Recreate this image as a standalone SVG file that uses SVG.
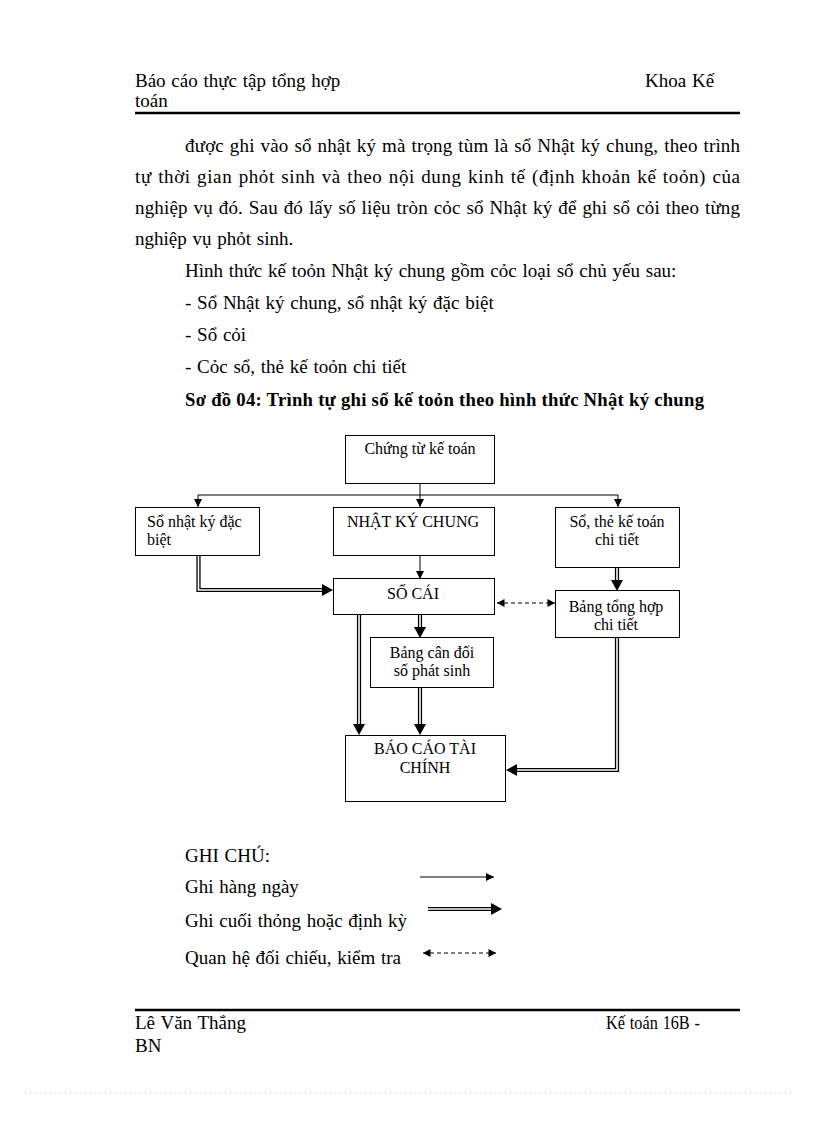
<svg xmlns="http://www.w3.org/2000/svg" width="816" height="1123" viewBox="0 0 816 1123">
<style>
text{font-family:"Liberation Serif","Times New Roman",serif;fill:#000}
.body{font-size:19px;word-spacing:1px}
.bold{font-size:18.7px;font-weight:bold}
.dg{font-size:16px}
.mid{text-anchor:middle}
.box{fill:#fff;stroke:#000;stroke-width:1}
.thin{fill:none;stroke:#000;stroke-width:1}
.dash{fill:none;stroke:#000;stroke-width:1;stroke-dasharray:4 3}
.dblo{fill:none;stroke:#000;stroke-width:4.2;stroke-linejoin:miter}
.dbli{fill:none;stroke:#fff;stroke-width:1.6;stroke-linejoin:miter}
.rule{stroke:#000;stroke-width:2.5}
</style>
<defs>
<marker id="ah" markerUnits="userSpaceOnUse" markerWidth="10" markerHeight="10" viewBox="0 0 10 10" refX="9" refY="5" orient="auto">
<path d="M1,1 L9,5 L1,9 Z" fill="#000"/>
</marker>
<marker id="ahs" markerUnits="userSpaceOnUse" markerWidth="10" markerHeight="10" viewBox="0 0 10 10" refX="9" refY="5" orient="auto-start-reverse">
<path d="M1.5,1 L9,5 L1.5,9 Z" fill="#000"/>
</marker>
<marker id="ahb" markerUnits="userSpaceOnUse" markerWidth="12" markerHeight="13" viewBox="0 0 12 13" refX="0" refY="6.5" orient="auto">
<path d="M0,0.5 L11,6.5 L0,12.5 Z" fill="#000"/>
</marker>
</defs>
<rect width="816" height="1123" fill="#fff"/>

<g id="header">
<text class="body" x="135" y="87">Báo cáo thực tập tổng hợp</text>
<text class="body" x="135" y="107">toán</text>
<text class="body" x="645" y="87">Khoa Kế</text>
<line class="rule" x1="135" y1="113" x2="740" y2="113"/>
</g>

<g id="bodytext">
<text class="body" x="185" y="152" textLength="555" lengthAdjust="spacing">được ghi vào sổ nhật ký mà trọng tùm là sổ Nhật ký chung, theo trình</text>
<text class="body" x="135" y="183" textLength="605" lengthAdjust="spacing">tự thời gian phỏt sinh và theo nội dung kinh tế (định khoản kế toỏn) của</text>
<text class="body" x="135" y="214" textLength="605" lengthAdjust="spacing">nghiệp vụ đó. Sau đó lấy số liệu tròn cỏc sổ Nhật ký để ghi sổ cỏi theo từng</text>
<text class="body" x="135" y="245">nghiệp vụ phỏt sinh.</text>
<text class="body" x="185" y="277">Hình thức kế toỏn Nhật ký chung gồm cỏc loại sổ chủ yếu sau:</text>
<text class="body" x="185" y="309">- Sổ Nhật ký chung, sổ nhật ký đặc biệt</text>
<text class="body" x="185" y="341">- Sổ cỏi</text>
<text class="body" x="185" y="373">- Cỏc sổ, thẻ kế toỏn chi tiết</text>
<text class="bold" x="185" y="406" textLength="519" lengthAdjust="spacing">Sơ đồ 04: Trình tự ghi sổ kế toỏn theo hình thức Nhật ký chung</text>
</g>

<g id="connectors">
<line class="thin" x1="420" y1="483" x2="420" y2="495"/>
<line class="thin" x1="198" y1="495" x2="618" y2="495"/>
<line class="thin" x1="198" y1="495" x2="198" y2="507" marker-end="url(#ah)"/>
<line class="thin" x1="420" y1="495" x2="420" y2="507" marker-end="url(#ah)"/>
<line class="thin" x1="618" y1="495" x2="618" y2="507" marker-end="url(#ah)"/>
<line class="thin" x1="420" y1="555" x2="420" y2="579" marker-end="url(#ah)"/>
<line class="dash" x1="497" y1="603" x2="555" y2="603" marker-start="url(#ahs)" marker-end="url(#ahs)"/>

<path class="dblo" d="M198.5,555 V590 H322" marker-end="url(#ahb)"/>
<path class="dbli" d="M198.5,555 V590 H322"/>
<path class="dblo" d="M617,567 V580" marker-end="url(#ahb)"/>
<path class="dbli" d="M617,567 V580"/>
<path class="dblo" d="M420,614 V627" marker-end="url(#ahb)"/>
<path class="dbli" d="M420,614 V627"/>
<path class="dblo" d="M359,614 V724" marker-end="url(#ahb)"/>
<path class="dbli" d="M359,614 V724"/>
<path class="dblo" d="M420,687 V724" marker-end="url(#ahb)"/>
<path class="dbli" d="M420,687 V724"/>
<path class="dblo" d="M617,638 V770 H517" marker-end="url(#ahb)"/>
<path class="dbli" d="M617,638 V770 H517"/>
</g>

<g id="n-chungtu">
<rect class="box" x="345.5" y="435.5" width="149" height="48"/>
<text class="dg mid" x="420" y="454">Chứng từ kế toán</text>
</g>
<g id="n-nkdb">
<rect class="box" x="135.5" y="507.5" width="124" height="48"/>
<text class="dg" x="147" y="527">Sổ nhật ký đặc</text>
<text class="dg" x="147" y="545">biệt</text>
</g>
<g id="n-nkc">
<rect class="box" x="333.5" y="507.5" width="161" height="48"/>
<text class="dg mid" x="413" y="527">NHẬT KÝ CHUNG</text>
</g>
<g id="n-sothe">
<rect class="box" x="555.5" y="507.5" width="124" height="60"/>
<text class="dg mid" x="617" y="527">Sổ, thẻ kế toán</text>
<text class="dg mid" x="617" y="545">chi tiết</text>
</g>
<g id="n-socai">
<rect class="box" x="333.5" y="578.5" width="161" height="36"/>
<text class="dg mid" x="413" y="599">SỐ CÁI</text>
</g>
<g id="n-bangtonghop">
<rect class="box" x="555.5" y="590.5" width="124" height="47"/>
<text class="dg mid" x="616" y="612">Bảng tổng hợp</text>
<text class="dg mid" x="616" y="630">chi tiết</text>
</g>
<g id="n-bangcandoi">
<rect class="box" x="370.5" y="637.5" width="123" height="50"/>
<text class="dg mid" x="432" y="658">Bảng cân đối</text>
<text class="dg mid" x="432" y="676">số phát sinh</text>
</g>
<g id="n-baocao">
<rect class="box" x="345.5" y="735.5" width="160" height="66"/>
<text class="dg mid" x="425" y="754">BÁO CÁO TÀI</text>
<text class="dg mid" x="425" y="773">CHÍNH</text>
</g>

<g id="legend">
<text class="body" x="185" y="862">GHI CHÚ:</text>
<text class="body" x="185" y="893">Ghi hàng ngày</text>
<text class="body" x="185" y="927">Ghi cuối thỏng hoặc định kỳ</text>
<text class="body" x="185" y="964">Quan hệ đối chiếu, kiểm tra</text>
<line class="thin" x1="420" y1="877" x2="494" y2="877" marker-end="url(#ah)"/>
<path class="dblo" d="M428,909 H491" marker-end="url(#ahb)"/>
<path class="dbli" d="M428,909 H491"/>
<line class="dash" x1="423" y1="953" x2="496" y2="953" marker-start="url(#ahs)" marker-end="url(#ahs)"/>
</g>

<g id="footer">
<line class="rule" x1="135" y1="1010" x2="740" y2="1010"/>
<text class="body" x="135" y="1029">Lê Văn Thắng</text>
<text class="body" x="135" y="1052">BN</text>
<text class="body" x="606" y="1029" textLength="94" lengthAdjust="spacingAndGlyphs">Kế toán 16B -</text>
<line x1="25" y1="1093" x2="791" y2="1093" stroke="#bbb" stroke-width="1" stroke-dasharray="1 4"/>
</g>
</svg>
